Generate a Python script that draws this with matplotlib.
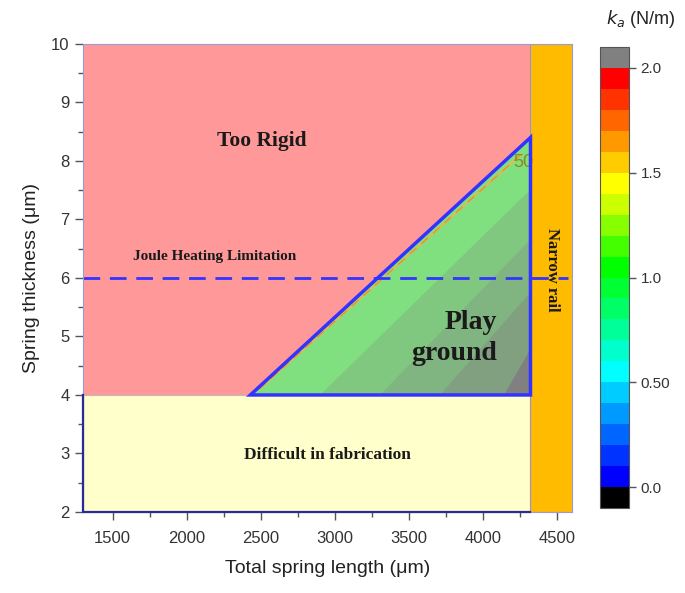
import matplotlib
matplotlib.use("Agg")
import matplotlib.pyplot as plt
from matplotlib.colors import ListedColormap, BoundaryNorm
from matplotlib.cm import ScalarMappable
from matplotlib.patches import Polygon

# axis ranges (um)
L_MIN, L_MAX = 1300, 4600
T_MIN, T_MAX = 2, 10

# design regions
RAIL_L = [4320, 4600]
FAB_T = 4.0
JOULE_T = 6.0

# play-ground triangle
TRI_L = [2430, 4320, 4320]
TRI_T = [4.0, 4.0, 8.4]

# k_a contour bands inside the triangle: intercept on t=4 and on L=4320
BAND_L0 = [2430, 2900, 3307, 3712, 4138]
BAND_TR = [8.4, 7.5, 6.65, 5.74, 4.77]
BAND_COLORS = ["#80e080", "#80c880", "#80b480", "#80a080", "#808080"]

# k_a colour scale
KA_LEVELS = [i / 10 for i in range(21)]
KA_COLORS = [
    "#0000ff", "#0033ff", "#0066ff", "#0099ff", "#00ccff",
    "#00ffff", "#00ffcc", "#00ff99", "#00ff66", "#00ff33",
    "#00ff00", "#44ff00", "#88ff00", "#ccff00", "#ffff00",
    "#ffcc00", "#ff9900", "#ff6600", "#ff3300", "#ff0000",
]
KA_TICKS = [0.0, 0.5, 1.0, 1.5, 2.0]
KA_TICKLABELS = ["0.0", "0.50", "1.0", "1.5", "2.0"]

serif = ["Liberation Serif", "DejaVu Serif"]
sans = ["Liberation Sans", "DejaVu Sans"]
plt.rcParams["font.family"] = sans

fig = plt.figure(figsize=(6.85, 5.93), dpi=100)
ax = fig.add_axes([0.121, 0.1366, 0.714, 0.7894])

# too rigid background
ax.fill([L_MIN, RAIL_L[0], RAIL_L[0], L_MIN], [T_MIN, T_MIN, T_MAX, T_MAX],
        color="#ff9999", zorder=1, lw=0)
# difficult in fabrication
ax.fill([L_MIN, RAIL_L[0], RAIL_L[0], L_MIN], [T_MIN, T_MIN, FAB_T, FAB_T],
        facecolor="#ffffcc", edgecolor="#c8b8b8", lw=0.8, zorder=2)
ax.plot([L_MIN, L_MIN, RAIL_L[0]], [FAB_T, T_MIN, T_MIN], color="#2a2a99",
        lw=1.6, zorder=10, clip_on=False)
# narrow rail
ax.fill([RAIL_L[0], RAIL_L[1], RAIL_L[1], RAIL_L[0]], [T_MIN, T_MIN, T_MAX, T_MAX],
        facecolor="#ffbb00", edgecolor="#a090d0", lw=0.8, zorder=2)

# contour bands
for l0, tr, c in zip(BAND_L0, BAND_TR, BAND_COLORS):
    ax.fill([l0, TRI_L[1], TRI_L[2]], [TRI_T[0], TRI_T[1], tr], color=c, lw=0, zorder=3)

# faint orange contour line along the hypotenuse
ax.plot([TRI_L[0] + 60, TRI_L[2] - 60], [TRI_T[0] + 0.1, TRI_T[2] - 0.28],
        color="#ffb040", lw=1.6, alpha=0.7, zorder=4, solid_capstyle="butt")
ax.plot([TRI_L[0] + 60, TRI_L[2] - 60], [TRI_T[0] + 0.1, TRI_T[2] - 0.28],
        color="#ff7010", lw=0.8, alpha=0.7, zorder=4, ls=(0, (8, 6)))

tri = Polygon(list(zip(TRI_L, TRI_T)), closed=True, fill=False,
              edgecolor="#3333ff", lw=2.5, zorder=6, joinstyle="miter")
ax.add_patch(tri)
clip_tri = Polygon(list(zip(TRI_L, TRI_T)), closed=True, transform=ax.transData)
lab = ax.text(4205, 7.97, "50", color="#8a8a20", fontsize=13, ha="left",
              va="center", zorder=5, family=sans)
lab.set_clip_path(clip_tri)

# joule heating limit
ax.plot([L_MIN, L_MAX - 30], [JOULE_T, JOULE_T], color="#3333ff", lw=2,
        ls=(0, (6, 3.5)), zorder=7)

# annotations
tkw = dict(family=serif, fontweight="bold", color="#1a1a1a", zorder=8)
ax.text(2509, 8.34, "Too Rigid", fontsize=15.5, ha="center", va="center", **tkw)
ax.text(2192, 6.36, "Joule Heating Limitation", fontsize=11, ha="center", va="center", **tkw)
ax.text(4097, 4.97, "Play\nground", fontsize=20, ha="right", va="center",
        multialignment="right", linespacing=1.3, **tkw)
ax.text(2949, 2.97, "Difficult in fabrication", fontsize=12.5, ha="center", va="center", **tkw)
ax.text(4462, 6.14, "Narrow rail", fontsize=12, ha="center", va="center",
        rotation=270, **tkw)

ax.set_xlim(L_MIN, L_MAX)
ax.set_ylim(T_MIN, T_MAX)
ax.set_xticks([1500, 2000, 2500, 3000, 3500, 4000, 4500])
ax.set_xticks(range(1750, 4600, 500), minor=True)
ax.set_yticks(range(2, 11))
ax.set_yticks([i + 0.5 for i in range(2, 10)], minor=True)
ax.tick_params(which="major", length=6, width=1, color="#555555",
               labelsize=12, labelcolor="#333333")
ax.tick_params(which="minor", length=3.5, width=1, color="#555555")
ax.tick_params(axis="x", pad=8)
for s in ax.spines.values():
    s.set_color("#9a9ad8")
    s.set_linewidth(0.8)
    s.set_zorder(9)
ax.set_xlabel("Total spring length (\u03bcm)", fontsize=14, color="#222222", labelpad=10)
ax.set_ylabel("Spring thickness (\u03bcm)", fontsize=14, color="#222222", labelpad=8)

# colour bar
cmap = ListedColormap(KA_COLORS)
cmap.set_under("#000000")
cmap.set_over("#808080")
norm = BoundaryNorm(KA_LEVELS, cmap.N)
cax = fig.add_axes([0.876, 0.143, 0.042, 0.778])
cb = fig.colorbar(ScalarMappable(norm=norm, cmap=cmap), cax=cax, extend="both",
                  extendrect=True, extendfrac=0.05, ticks=KA_TICKS)
cb.ax.minorticks_off()
cb.ax.set_yticklabels(KA_TICKLABELS)
cb.ax.tick_params(length=5, width=1, color="#555555", labelsize=11,
                  labelcolor="#333333")
cb.outline.set_edgecolor("#555555")
cb.outline.set_linewidth(0.8)
fig.text(0.935, 0.968, "$k_a$ (N/m)", fontsize=13, ha="center", va="center",
         color="#222222")

fig.savefig("out.png", dpi=100)
